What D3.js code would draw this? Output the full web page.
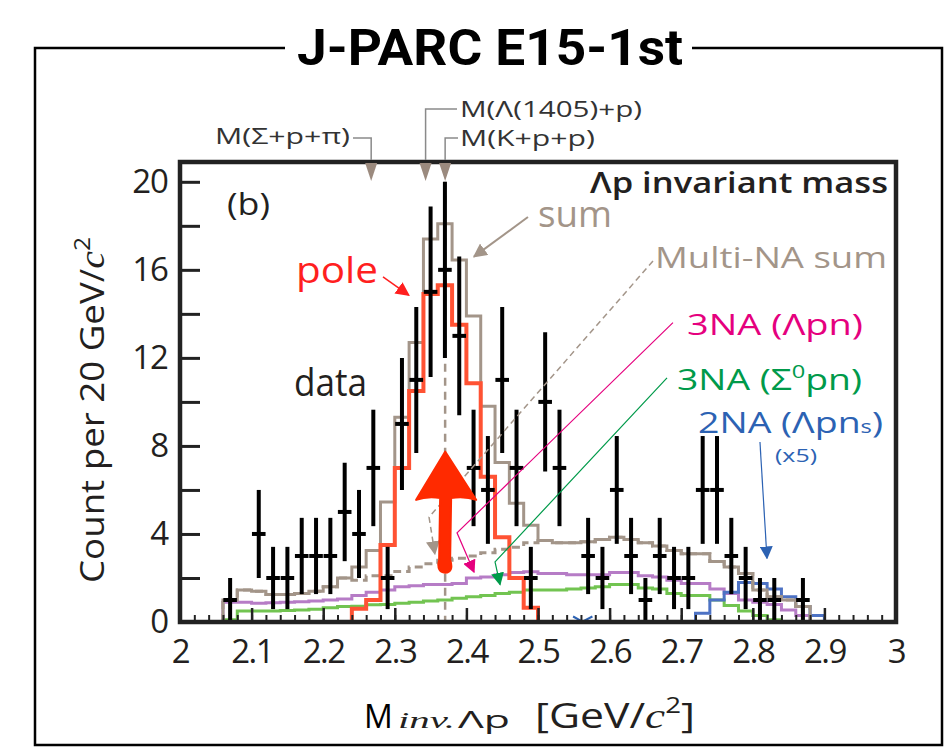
<!DOCTYPE html>
<html>
<head>
<meta charset="utf-8">
<script src="https://cdn.jsdelivr.net/npm/d3@7"></script>
<style>
  body { margin: 0; background: #fff; }
  svg { display: block; }
</style>
</head>
<body>
<svg id="chart"></svg>
<script>
// ---- data ----
const xTicks = [2, 2.1, 2.2, 2.3, 2.4, 2.5, 2.6, 2.7, 2.8, 2.9, 3];
const xTickLabels = ["2", "2.1", "2.2", "2.3", "2.4", "2.5", "2.6", "2.7", "2.8", "2.9", "3"];
const yTicks = [0, 4, 8, 12, 16, 20];
const yMinorTicks = [2, 6, 10, 14, 18];

// histogram bin edges, 20 MeV bins
const edges = [2.06, 2.08, 2.10, 2.12, 2.14, 2.16, 2.18, 2.20, 2.22, 2.24, 2.26, 2.28, 2.30,
  2.32, 2.34, 2.36, 2.38, 2.40, 2.42, 2.44, 2.46, 2.48, 2.50, 2.52, 2.54, 2.56, 2.58, 2.60,
  2.62, 2.64, 2.66, 2.68, 2.70, 2.72, 2.74, 2.76, 2.78, 2.80, 2.82, 2.84, 2.86, 2.88, 2.90];

// data points (bin centers) and counts
const dataCenters = [2.07, 2.09, 2.11, 2.13, 2.15, 2.17, 2.19, 2.21, 2.23, 2.25, 2.27, 2.29,
  2.31, 2.33, 2.35, 2.37, 2.39, 2.41, 2.43, 2.45, 2.47, 2.49, 2.51, 2.53, 2.55, 2.57, 2.59,
  2.61, 2.63, 2.65, 2.67, 2.69, 2.71, 2.73, 2.75, 2.77, 2.79, 2.81, 2.83, 2.85, 2.87];
const dataCounts = [1, 0, 4, 2, 2, 3, 3, 3, 5, 4, 7, 2,
  9, 11, 15, 16, 13, 7, 6, 11, 7, 2, 10, 7, 0, 3, 2,
  6, 3, 1, 3, 2, 2, 6, 6, 3, 2, 1, 1, 0, 1];

// "sum" (first bin 2.06)
const sumValues = [1.0, 1.45, 1.4, 1.25, 1.25, 1.3, 1.4, 1.6, 2.0, 2.5, 3.25, 5.45, 9.3,
  12.7, 17.4, 18.1, 16.45, 13.9, 9.8, 7.25, 5.4, 4.4, 3.7, 3.6, 3.6, 3.65, 3.75, 3.85,
  3.75, 3.6, 3.45, 3.25, 3.1, 3.1, 2.75, 2.5, 2.2, 1.45, 1.15, 1.0, 0.7];
// "Multi-NA sum" (first bin 2.06)
const multiValues = [1.0, 1.45, 1.4, 1.25, 1.25, 1.3, 1.4, 1.6, 2.0, 1.9, 2.1, 2.1, 2.3,
  2.5, 2.65, 2.8, 2.9, 3.0, 3.15, 3.3, 3.4, 3.6, 3.7, 3.6, 3.6, 3.65, 3.75, 3.85,
  3.75, 3.6, 3.45, 3.25, 3.1, 3.1, 2.75, 2.5, 2.2, 1.45, 1.15, 1.0, 0.7];
// "pole" (first bin 2.24)
const poleFirst = 9;
const poleValues = [0.6, 1.0, 3.5, 7.0, 10.5, 14.9, 15.3, 13.5, 10.85, 6.6, 3.85, 2.0, 0.65];
// 3NA (Lambda p n) (first bin 2.06)
const lpnValues = [0.9, 0.9, 0.85, 0.88, 0.9, 0.92, 0.95, 1.0, 1.05, 1.2, 1.35, 1.45, 1.6,
  1.65, 1.7, 1.7, 1.75, 2.0, 2.05, 2.15, 2.25, 2.28, 2.2, 2.2, 2.15, 2.15, 2.15, 2.25,
  2.25, 2.1, 2.05, 1.9, 1.75, 1.75, 1.5, 1.3, 1.0, 0.9, 0.8, 0.55, 0.3];
// 3NA (Sigma0 p n) (first bin 2.06)
const spnValues = [0.1, 0.5, 0.5, 0.5, 0.52, 0.55, 0.58, 0.65, 0.7, 0.72, 0.78, 0.8, 0.85,
  0.9, 0.95, 1.0, 1.08, 1.15, 1.2, 1.3, 1.35, 1.45, 1.45, 1.45, 1.5, 1.55, 1.6, 1.7,
  1.7, 1.55, 1.5, 1.3, 1.2, 1.2, 1.0, 0.75, 0.5, 0.3, 0.1];
// 2NA (Lambda p n_s) x5 (first bin 2.72)
const nnFirst = 33;
const nnValues = [0.4, 1.0, 1.35, 1.8, 1.75, 1.5, 1.15, 0.7, 0.3];

// threshold markers
const markerMasses = [2.267, 2.343, 2.3703];

// ---- layout ----
const W = 949, H = 750;
const taupe = "#a39589";

const svg = d3.select("#chart").attr("width", W).attr("height", H);

const x = d3.scaleLinear().domain([2, 3]).range([180, 896]);
const y = d3.scaleLinear().domain([0, 20.9]).range([622, 162]);

// outer frame with title
svg.append("path")
  .attr("d", "M285,48H35V745H942V48H692")
  .attr("fill", "none")
  .attr("stroke", "#000")
  .attr("stroke-width", 2.5);

svg.append("text")
  .attr("x", 490)
  .attr("y", 65)
  .attr("text-anchor", "middle")
  .attr("font-family", "Roboto, 'Liberation Sans Narrow', sans-serif")
  .attr("font-weight", 700)
  .attr("font-size", 50)
  .attr("textLength", 386)
  .attr("lengthAdjust", "spacingAndGlyphs")
  .attr("fill", "#000")
  .text("J-PARC E15-1st");

const plot = svg.append("g");

// step histograms
function stepPath(first, values) {
  const pts = [[edges[first], 0]];
  values.forEach((v, i) => {
    pts.push([edges[first + i], v]);
    pts.push([edges[first + i + 1], v]);
  });
  pts.push([edges[first + values.length], 0]);
  return d3.line().x(d => x(d[0])).y(d => y(d[1]))(pts);
}

plot.append("path").attr("d", stepPath(0, spnValues))
  .attr("fill", "none").attr("stroke", "#72c451").attr("stroke-width", 3);
plot.append("path").attr("d", stepPath(0, lpnValues))
  .attr("fill", "none").attr("stroke", "#b67cc6").attr("stroke-width", 3);
plot.append("path").attr("d", stepPath(nnFirst, nnValues))
  .attr("fill", "none").attr("stroke", "#4d72c4").attr("stroke-width", 3);
plot.append("path").attr("d", stepPath(0, multiValues))
  .attr("fill", "none").attr("stroke", taupe).attr("stroke-width", 3)
  .attr("stroke-dasharray", "8,5");
plot.append("path").attr("d", stepPath(0, sumValues))
  .attr("fill", "none").attr("stroke", taupe).attr("stroke-width", 3);
plot.append("path").attr("d", stepPath(poleFirst, poleValues))
  .attr("fill", "none").attr("stroke", "#ff5233").attr("stroke-width", 4);

// K+p+p threshold dashed line
plot.append("line")
  .attr("x1", x(markerMasses[2])).attr("x2", x(markerMasses[2]))
  .attr("y1", y(20)).attr("y2", y(0))
  .attr("stroke", taupe).attr("stroke-width", 2.5)
  .attr("stroke-dasharray", "8,6");

// data with sqrt(N) error bars
const points = dataCenters.map((c, i) => ({ c: c, n: dataCounts[i] })).filter(d => d.n > 0);

plot.selectAll(".err")
  .data(points)
  .enter()
  .append("line")
  .attr("class", "err")
  .attr("x1", d => x(d.c)).attr("x2", d => x(d.c))
  .attr("y1", d => y(Math.max(0, d.n - Math.sqrt(d.n))))
  .attr("y2", d => y(d.n + Math.sqrt(d.n)))
  .attr("stroke", "#000").attr("stroke-width", 4);

plot.selectAll(".cap")
  .data(points)
  .enter()
  .append("line")
  .attr("class", "cap")
  .attr("x1", d => x(d.c - 0.0095)).attr("x2", d => x(d.c + 0.0095))
  .attr("y1", d => y(d.n)).attr("y2", d => y(d.n))
  .attr("stroke", "#000").attr("stroke-width", 4);

// annotation arrows
const defs = svg.append("defs");
function marker(id, color, size) {
  defs.append("marker")
    .attr("id", id)
    .attr("viewBox", "0 0 10 10")
    .attr("refX", 9).attr("refY", 5)
    .attr("markerWidth", size).attr("markerHeight", size)
    .attr("markerUnits", "userSpaceOnUse")
    .attr("orient", "auto")
    .append("path")
    .attr("d", "M0,0L10,5L0,10Z")
    .attr("fill", color);
}
marker("ah-red", "#ff1f1f", 14);
marker("ah-taupe", taupe, 14);
marker("ah-mag", "#e5007e", 13);
marker("ah-green", "#009a4a", 13);
marker("ah-blue", "#2c62b3", 13);

const arrowLine = d3.line().x(d => x(d[0])).y(d => y(d[1]));
function arrow(pts, color, id, width, dash) {
  const p = plot.append("path")
    .attr("d", arrowLine(pts))
    .attr("fill", "none")
    .attr("stroke", color)
    .attr("stroke-width", width)
    .attr("marker-end", `url(#${id})`);
  if (dash) p.attr("stroke-dasharray", dash);
}
arrow([[2.2835, 15.68], [2.3195, 14.85]], "#ff1f1f", "ah-red", 1.5);
arrow([[2.486, 18.4], [2.4106, 16.6]], taupe, "ah-taupe", 2);
arrow([[2.6606, 16.4], [2.3478, 4.77], [2.356, 3.1]], taupe, "ah-taupe", 1.5, "6,4");
arrow([[2.6885, 13.6], [2.3869, 4.05], [2.4106, 2.27]], "#e5007e", "ah-mag", 1.2);
arrow([[2.6802, 11.09], [2.44, 2.73], [2.447, 1.7]], "#009a4a", "ah-green", 1.2);
arrow([[2.81, 8.18], [2.8198, 2.9]], "#2c62b3", "ah-blue", 1.2);

// small blue chevron at the axis
plot.append("path")
  .attr("d", arrowLine([[2.549, 0.25], [2.562, 0.02], [2.576, 0.25]]))
  .attr("fill", "none").attr("stroke", "#2c62b3").attr("stroke-width", 2);

// big red hand-drawn arrow
const ax = x(markerMasses[2]);
const tipY = y(7.74), wingY = y(5.55), joinY = y(6.0), baseY = y(2.55);
plot.append("path")
  .attr("d", `M${ax},${tipY} L${ax + 31},${wingY} Q${ax + 20},${wingY - 4} ${ax + 6},${joinY + 8}
    L${ax + 5},${baseY - 6} Q${ax + 9},${baseY + 6} ${ax},${baseY + 7}
    Q${ax - 9},${baseY + 6} ${ax - 6},${baseY - 6} L${ax - 5},${joinY + 8}
    Q${ax - 18},${wingY - 4} ${ax - 29},${wingY} Z`)
  .attr("fill", "#ff2a00")
  .attr("stroke", "#ff2a00")
  .attr("stroke-width", 2)
  .attr("stroke-linejoin", "round");

// axes ticks (inward)
plot.append("g")
  .attr("transform", `translate(${x(2)},0)`)
  .call(d3.axisLeft(y).tickValues(yTicks.concat(yMinorTicks)).tickSize(-20).tickFormat(""))
  .call(g => g.select(".domain").remove())
  .call(g => g.selectAll("line").attr("stroke", "#222").attr("stroke-width", 3));

const xMinor = edges.map(e => e).concat([2.02, 2.04, 2.92, 2.94, 2.96, 2.98]);
plot.append("g")
  .attr("transform", `translate(0,${y(0)})`)
  .call(d3.axisBottom(x).tickValues(xMinor).tickSize(-7).tickFormat(""))
  .call(g => g.select(".domain").remove())
  .call(g => g.selectAll("line").attr("stroke", "#222").attr("stroke-width", 2));
plot.append("g")
  .attr("transform", `translate(0,${y(0)})`)
  .call(d3.axisBottom(x).tickValues(xTicks).tickSize(-14).tickFormat(""))
  .call(g => g.select(".domain").remove())
  .call(g => g.selectAll("line").attr("stroke", "#222").attr("stroke-width", 2.5));

// tick labels
plot.append("g")
  .attr("transform", `translate(0,${y(0)})`)
  .call(d3.axisBottom(x).tickValues(xTicks).tickSize(0).tickPadding(18)
    .tickFormat((d, i) => xTickLabels[i]))
  .call(g => g.select(".domain").remove())
  .call(g => g.selectAll("text")
    .attr("font-family", "'Open Sans', sans-serif")
    .attr("font-size", 33)
    .attr("letter-spacing", "-1.5px")
    .attr("fill", "#231f20"));

plot.append("g")
  .attr("transform", `translate(${x(2)},0)`)
  .call(d3.axisLeft(y).tickValues(yTicks).tickSize(0).tickPadding(12))
  .call(g => g.select(".domain").remove())
  .call(g => g.selectAll("text")
    .attr("font-family", "'Open Sans', sans-serif")
    .attr("font-size", 33)
    .attr("letter-spacing", "-1px")
    .attr("fill", "#231f20"));

// plot frame
plot.append("rect")
  .attr("x", x(2)).attr("y", y(20.9))
  .attr("width", x(3) - x(2)).attr("height", y(0) - y(20.9))
  .attr("fill", "none").attr("stroke", "#222").attr("stroke-width", 4.5);

// threshold markers above the frame
plot.selectAll(".tri")
  .data(markerMasses)
  .enter()
  .append("path")
  .attr("class", "tri")
  .attr("d", d => `M${x(d) - 6},${y(20.9) + 1}L${x(d) + 6},${y(20.9) + 1}L${x(d)},${y(20.9) + 19}Z`)
  .attr("fill", "#9b8a7e");

const leader = "#8a8a8a";
svg.append("path").attr("d", `M353,138H${x(markerMasses[0])}V160`)
  .attr("fill", "none").attr("stroke", leader).attr("stroke-width", 1.5);
svg.append("path").attr("d", `M${x(markerMasses[1])},160V109H457`)
  .attr("fill", "none").attr("stroke", leader).attr("stroke-width", 1.5);
svg.append("path").attr("d", `M${x(markerMasses[2])},160V138H458`)
  .attr("fill", "none").attr("stroke", leader).attr("stroke-width", 1.5);

function label(txt, px, py, size, color, len, weight) {
  const t = svg.append("text")
    .attr("x", px).attr("y", py)
    .attr("font-family", "'Open Sans', sans-serif")
    .attr("font-size", size)
    .attr("fill", color)
    .text(txt);
  if (len) t.attr("textLength", len).attr("lengthAdjust", "spacingAndGlyphs");
  if (weight) t.attr("font-weight", weight);
  return t;
}

label("M(Σ+p+π)", 215, 144, 21, "#333", 135);
label("M(Λ(1405)+p)", 460, 117, 21, "#333", 182);
label("M(K+p+p)", 460, 146, 21, "#333", 135);

label("(b)", 227, 215, 31, "#231f20", 43);
label("Λp invariant mass", 590, 193, 29, "#231f20", 298, 600);
label("sum", 538, 227, 37, taupe, 74);
label("Multi-NA sum", 655, 268, 30, taupe, 232);
label("pole", 296, 283, 37, "#ff1f1f", 82);
label("data", 294, 396, 38, "#231f20", 73);
label("3NA (Λpn)", 687, 335, 30, "#e5007e", 176);

const s0 = svg.append("text")
  .attr("x", 677).attr("y", 390)
  .attr("font-family", "'Open Sans', sans-serif")
  .attr("font-size", 30)
  .attr("textLength", 185)
  .attr("lengthAdjust", "spacingAndGlyphs")
  .attr("fill", "#009a4a");
s0.append("tspan").text("3NA (Σ");
s0.append("tspan").attr("font-size", 19).attr("dy", -12).text("0");
s0.append("tspan").attr("dy", 12).text("pn)");

const nn = svg.append("text")
  .attr("x", 698).attr("y", 433)
  .attr("font-family", "'Open Sans', sans-serif")
  .attr("font-size", 30)
  .attr("textLength", 185)
  .attr("lengthAdjust", "spacingAndGlyphs")
  .attr("fill", "#2c62b3");
nn.append("tspan").text("2NA (Λpn");
nn.append("tspan").attr("font-size", 19).text("s");
nn.append("tspan").text(")");
label("(x5)", 775, 462, 19, "#2c62b3", 42);

// axis titles
const yt = svg.append("text")
  .attr("transform", "translate(104,410) rotate(-90)")
  .attr("text-anchor", "middle")
  .attr("font-family", "'Open Sans', sans-serif")
  .attr("font-size", 33)
  .attr("textLength", 346)
  .attr("lengthAdjust", "spacingAndGlyphs")
  .attr("fill", "#231f20");
yt.append("tspan").text("Count per 20 GeV/");
yt.append("tspan").attr("font-family", "'Liberation Serif', serif").attr("font-style", "italic").attr("font-size", 36).text("c");
yt.append("tspan").attr("font-size", 22).attr("dy", -14).text("2");

label("M", 364, 728, 32);
svg.append("text")
  .attr("x", 398).attr("y", 728)
  .attr("font-family", "'Liberation Serif', serif")
  .attr("font-style", "italic")
  .attr("font-size", 24)
  .attr("textLength", 57)
  .attr("lengthAdjust", "spacingAndGlyphs")
  .attr("fill", "#231f20")
  .text("inv.");
label("Λp", 458, 728, 24, "#231f20", 52);

const xt = svg.append("text")
  .attr("x", 535).attr("y", 728)
  .attr("font-family", "'Open Sans', sans-serif")
  .attr("font-size", 34)
  .attr("textLength", 160)
  .attr("lengthAdjust", "spacingAndGlyphs")
  .attr("fill", "#231f20");
xt.append("tspan").text("[GeV/");
xt.append("tspan").attr("font-family", "'Liberation Serif', serif").attr("font-style", "italic").attr("font-size", 36).text("c");
xt.append("tspan").attr("font-size", 22).attr("dy", -15).text("2");
xt.append("tspan").attr("dy", 15).text("]");
</script>
</body>
</html>
